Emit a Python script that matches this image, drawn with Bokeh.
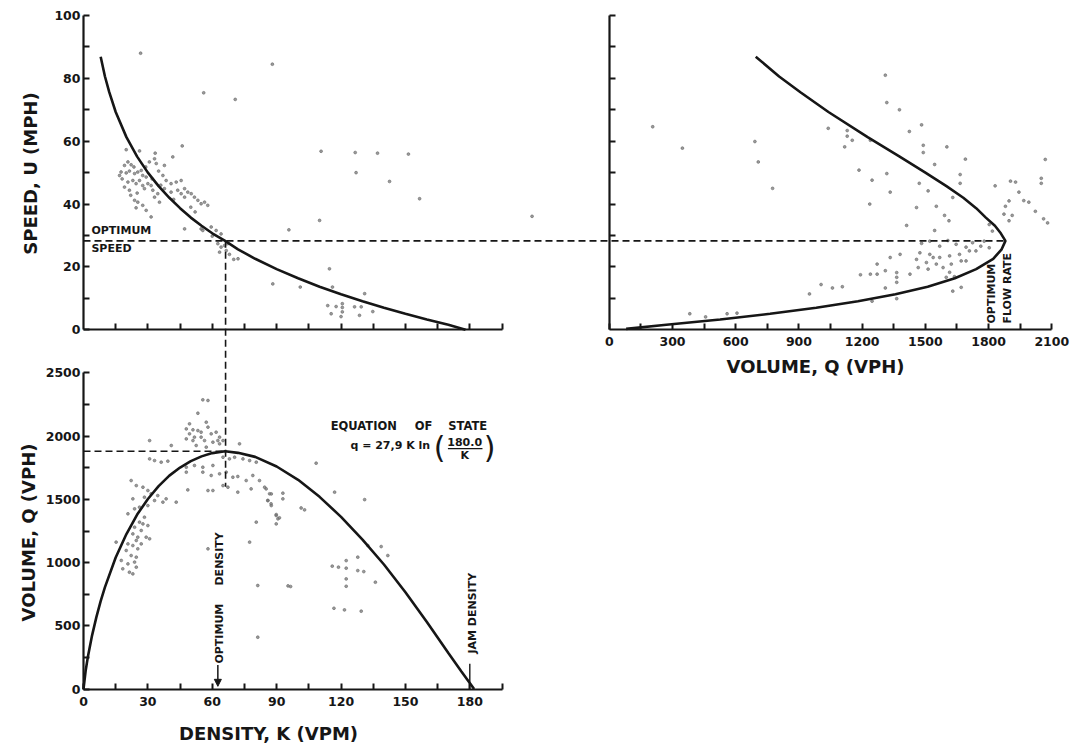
from math import pi
from bokeh.plotting import figure
from bokeh.models import Range1d, LinearAxis, FixedTicker, Arrow, NormalHead
from bokeh.core.properties import value
from bokeh.embed import file_html
from bokeh.resources import INLINE

# ---------------- data ----------------
# speed-density model curve (top left)
UK_CURVE_K = [8, 10, 12, 15, 20, 25, 30, 35, 40, 45, 50, 55, 60, 66, 72, 80, 90, 100, 110, 120, 130, 140, 150, 160, 170, 178]
UK_CURVE_U = [86.9, 80.6, 75.6, 69.3, 61.3, 55.1, 50.0, 45.7, 42.0, 38.7, 35.7, 33.1, 30.7, 28.3, 25.6, 22.6, 19.3, 16.4, 13.7, 11.3, 9.1, 7.0, 5.1, 3.3, 1.6, 0.0]

# speed-volume model curve (top right)
UQ_CURVE_Q = [695, 806, 907, 1040, 1226, 1378, 1500, 1600, 1680, 1741, 1787, 1830, 1858, 1880, 1862, 1822, 1741, 1640, 1511, 1358, 1180, 982, 763, 526, 271, 80]
UQ_CURVE_U = [86.9, 80.6, 75.6, 69.3, 61.3, 55.1, 50.0, 45.7, 42.0, 38.7, 35.7, 33.1, 30.7, 28.3, 25.6, 22.6, 19.3, 16.4, 13.7, 11.3, 9.1, 7.0, 5.1, 3.3, 1.6, 0.3]

# volume-density model curve (bottom)
QK_CURVE_K = [0, 1, 2, 4, 6, 8, 10, 15, 20, 25, 30, 35, 40, 45, 50, 55, 60, 66, 72, 80, 90, 100, 110, 120, 130, 140, 150, 160, 170, 176, 182]
QK_CURVE_Q = [0, 145, 251, 425, 569, 695, 806, 1040, 1226, 1380, 1503, 1605, 1688, 1752, 1802, 1840, 1866, 1880, 1868, 1836, 1760, 1655, 1520, 1362, 1182, 985, 766, 530, 285, 142, 0]

# optimum values
OPT_K = 66.2
OPT_U = 28.3
OPT_Q = 1880
JAM_K = 180

# observed speed-density points
UK_OBS_K = [46, 19.9, 26.1, 33.4, 41.6, 33.1, 30.7, 33.9, 37.7, 20.7, 19.1, 22.2, 23.5, 16.8, 17.5, 19.9, 21.4, 23.8,
            25.3, 26.9, 27.6, 29.2, 26.1, 23, 20.7, 24.5, 27.6, 30, 31.5, 28.4, 37, 38.5, 40.8, 43.2, 45.5, 47.1,
            48.6, 50.2, 51.7, 53.3, 54.8, 56.4, 57.9, 47.1, 45.5, 43.9, 35.4, 33.1, 27.6, 25.3, 29.2, 23.8, 31.5,
            47.1, 54.8, 55.6, 59.5, 61.8, 64.1, 62.6, 64.1, 65.7, 67.2, 66.5, 63.4, 21.4, 19.1, 32.3, 34.6, 37.7,
            40.8, 22, 25, 36, 42, 50, 52, 24.5, 32, 35, 18, 29, 60, 68, 70,
            26.6, 88, 56, 70.7, 110.7, 126.6, 137, 151.4, 127, 142.6, 156.6, 110, 95.7, 209, 72, 88.2, 101,
            114.6, 116, 131, 134.8, 128.6, 120, 115.4, 113.8, 117.7, 120.6, 120.6, 120.6, 126.3, 129.4]
UK_OBS_U = [58.5, 57.3, 56.9, 56.2, 55, 54.4, 53.4, 52.9, 52.3, 53.4, 52.3, 52.5, 51.8, 49.1, 50.2, 49.9, 50.5, 49.7,
            50.2, 50.7, 49.1, 48.6, 47.5, 47.5, 47, 46.5, 45.9, 46.5, 45.9, 44.9, 49.1, 47.5, 46.5, 47, 47.5, 44.9,
            43.8, 43.3, 42.2, 41.2, 40.1, 40.6, 39.6, 42.2, 43.3, 44.4, 40.6, 42.2, 39.6, 40.6, 38, 41.2, 35.9,
            32.1, 32.1, 31.6, 32.7, 31.6, 30.5, 27.4, 26.3, 26.8, 27.4, 25.2, 24.7, 44.4, 45.4, 44.4, 43.3, 44.9,
            43.8, 42.8, 43.5, 46, 41.5, 39, 37.5, 38.8, 48, 50.5, 48, 51.8, 29.8, 24, 22.4,
            88, 84.5, 75.4, 73.3, 56.8, 56.4, 56.2, 55.9, 50, 47.2, 41.7, 34.8, 31.8, 36.1, 22.6, 14.6, 13.6,
            19.4, 13.6, 11.5, 5.8, 4.6, 4.2, 5.1, 7.7, 7.4, 8.3, 7.1, 5.7, 7.3, 7.3]

# observed speed-volume points
UQ_OBS_Q = [1310, 1317, 1377, 206, 1039, 1129, 1129, 1482, 1424, 691, 347, 1153, 1239, 1117, 1490, 1490, 1602, 707,
            1544, 1690, 2069, 1665, 1665, 1185, 1317, 1247, 1471, 1513, 775, 1333, 1831, 1904, 2050, 2050, 1944,
            1967, 1630, 1236, 1458, 1552, 1897, 1880, 1873, 1897, 2022, 2061, 2080, 1591, 1612, 1411, 1803, 1544,
            1818, 1928, 1912, 1991,
            1482, 1521, 1568, 1607, 1646, 1693, 1724, 1763, 1779, 1803, 1709, 1662, 1615, 1568, 1521, 1474, 1458,
            1505, 1552, 1584, 1623, 1670, 1466, 1427, 1364, 1364, 1364, 1310, 1271, 1271, 1239, 1192, 1333, 1380,
            1513, 1615, 1638, 1537, 1599, 1693, 1740,
            1005, 1059, 1106, 950, 1247, 1310, 1364, 1630, 1670, 382, 457, 559, 606]
UQ_OBS_U = [81, 72.3, 70, 64.6, 64.1, 63.4, 61.6, 65.2, 63.1, 59.9, 57.8, 60.3, 60.3, 58.2, 58.7, 56.4, 58.2, 53.4,
            52.6, 54.3, 54.2, 49.4, 46.6, 50.8, 49.7, 47.6, 46.6, 44.2, 45, 43.8, 45.8, 47.3, 48.2, 46.6, 43.8,
            41.1, 42.1, 40, 38.9, 39.3, 41, 39.3, 36.8, 34.7, 37.7, 35.3, 34, 36.4, 34.7, 33.2, 33.5, 31.6,
            31.4, 47, 36.4, 40.6,
            27.5, 28.2, 26.6, 28.4, 27.2, 26.3, 27.7, 26.6, 28.2, 26.1, 25.1, 24.0, 23.5, 23.0, 24.0, 24.5, 22.4,
            21.4, 20.9, 19.8, 20.9, 21.9, 19.8, 17.7, 18.2, 16.7, 15.1, 18.8, 20.9, 17.7, 17.7, 17.5, 23.0, 24.0,
            19.3, 18.3, 16.9, 23.0, 16.7, 21.9, 25.1,
            14.4, 13.3, 13.7, 11.4, 9.1, 13.3, 9.9, 12.3, 13.5, 5.1, 4.1, 5.1, 5.3]

# observed volume-density points
QK_OBS_K = [55.6, 58, 53.3, 49.4, 47.9, 51, 53.3, 54.8, 57.2, 58, 59.5, 61.8, 63.4, 62.6, 49.4, 51.7, 54.8, 56.4,
            60.3, 63.4, 65, 47.9, 51, 52.5, 57.2, 72.7, 30.8, 40.9, 30.8, 33.1, 36.2, 39.3, 47.9, 51.7, 55.6, 60.3,
            65, 68, 70.4, 74.3, 77.4, 80.5, 47.9, 55.6, 59.5, 63.4, 66.5, 69.6, 71.9, 75.8, 78.9, 82, 85.1, 86.7,
            87.4, 89.8, 90.6, 85.9, 48.6, 58, 60.3, 65, 67.3, 71.9, 78.1, 38.5, 43.2, 80.5, 77.4, 58, 81.2, 81.2,
            22.2, 24.6, 27.7, 30, 23, 28.4, 31.5, 33.1, 34.6, 37, 30, 26.1, 23.8, 20.7, 28.4, 26.1, 23.8, 27.7,
            30, 26.9, 23, 29.2, 30.8, 24.6, 20.7, 23, 25.3, 19.9, 22.2, 24.6, 20.7, 23.8, 18.3, 21.4, 24.6, 23,
            15.2, 17.6, 25.3, 26.9,
            108.4, 117, 131, 84.4, 87.5, 92.9, 85.9, 87.5, 89.8, 91.3, 89.8, 92.9, 103, 96.5, 132.5, 138.7, 141.8,
            122.4, 122.4, 122.4, 122.4, 115.9, 118.8, 127.8, 127.8, 130.6, 136, 116.7, 121.6, 129.4, 101.4, 95.3]
QK_OBS_Q = [2287, 2282, 2181, 2097, 2057, 2050, 2044, 2031, 2110, 2071, 2018, 2031, 1992, 1965, 2018, 1992, 1992, 1965,
            1952, 1939, 1965, 1978, 1965, 1926, 1913, 1939, 1965, 1926, 1820, 1807, 1794, 1802, 1754, 1768, 1754, 1768,
            1833, 1820, 1833, 1820, 1807, 1794, 1715, 1715, 1689, 1702, 1715, 1675, 1681, 1649, 1689, 1649, 1583, 1544,
            1465, 1372, 1346, 1491, 1575, 1570, 1570, 1609, 1596, 1557, 1583, 1504, 1478, 1320, 1162, 1109, 819, 410,
            1649, 1609, 1596, 1570, 1504, 1517, 1544, 1491, 1530, 1478, 1451, 1438, 1425, 1386, 1359, 1320, 1280, 1306,
            1293, 1254, 1227, 1201, 1188, 1175, 1148, 1135, 1109, 1096, 1056, 1043, 990, 1004, 951, 924, 964, 911,
            1162, 1017, 1201, 1148,
            1786, 1557, 1498, 1596, 1543, 1549, 1491, 1451, 1380, 1354, 1306, 1504, 1417, 811, 1135, 1127, 1056,
            1016, 956, 871, 813, 972, 964, 1043, 937, 929, 845, 639, 626, 616, 1432, 816]

# axis ticks
K_MAJOR = [0, 30, 60, 90, 120, 150, 180]
K_MINOR = [15, 45, 75, 105, 135, 165, 195]
K_ALL = [15, 30, 45, 60, 75, 90, 105, 120, 135, 150, 165, 180, 195]
U_MAJOR = [0, 20, 40, 60, 80, 100]
U_MINOR = [10, 30, 50, 70, 90]
U_ALL = [10, 20, 30, 40, 50, 60, 70, 80, 90, 100]
QX_MAJOR = [0, 300, 600, 900, 1200, 1500, 1800, 2100]
QX_MINOR = [150, 450, 750, 1050, 1350, 1650, 1950]
QY_MAJOR = [0, 500, 1000, 1500, 2000, 2500]
QY_MINOR = [250, 750, 1250, 1750, 2250]

# ---------------- layout (pixels) ----------------
W, H = 1077, 744
PX_K0, PX_K195 = 83.0, 501.5
PY_U0, PY_U100 = 329.3, 15.0
PX_Q0, PX_Q2100 = 608.8, 1051.3
PY_Q0, PY_Q2500 = 688.6, 372.4

INK = "#161616"
DOT = "#707070"
FONT = "DejaVu Sans"


def x_range(d0, p0, d1, p1):
    s = (d1 - d0) / (p1 - p0)
    return Range1d(start=d0 - p0 * s, end=d0 + (W - p0) * s)


def y_range(d0, p0, d1, p1):
    s = (d1 - d0) / (p1 - p0)
    return Range1d(start=d0 + (H - p0) * s, end=d0 - p0 * s)


def lin(d0, p0, d1, p1):
    s = (p1 - p0) / (d1 - d0)
    to_px = lambda d: p0 + (d - d0) * s
    to_d = lambda px: d0 + (px - p0) / s
    return to_px, to_d


k_px, px_k = lin(0, PX_K0, 195, PX_K195)
u_py, py_u = lin(0, PY_U0, 100, PY_U100)
q_px, px_q = lin(0, PX_Q0, 2100, PX_Q2100)
q_py, py_q = lin(0, PY_Q0, 2500, PY_Q2500)

p = figure(width=W, height=H, x_range=Range1d(0, W), y_range=Range1d(0, H),
           x_axis_type=None, y_axis_type=None, toolbar_location=None,
           output_backend="svg", min_border=0, title=None,
           outline_line_color=None, background_fill_color="white", border_fill_color="white")
p.extra_x_ranges = {"k": x_range(0, PX_K0, 195, PX_K195), "qx": x_range(0, PX_Q0, 2100, PX_Q2100)}
p.extra_y_ranges = {"u": y_range(0, PY_U0, 100, PY_U100), "qy": y_range(0, PY_Q0, 2500, PY_Q2500)}

# observations
DOTS = dict(size=2.8, color=DOT, alpha=0.7)
p.scatter(UK_OBS_K, UK_OBS_U, x_range_name="k", y_range_name="u", **DOTS)
p.scatter(UQ_OBS_Q, UQ_OBS_U, x_range_name="qx", y_range_name="u", **DOTS)
p.scatter(QK_OBS_K, QK_OBS_Q, x_range_name="k", y_range_name="qy", **DOTS)

# model curves
p.line(UK_CURVE_K, UK_CURVE_U, line_width=2.6, color=INK, x_range_name="k", y_range_name="u")
p.line(UQ_CURVE_Q, UQ_CURVE_U, line_width=2.6, color=INK, x_range_name="qx", y_range_name="u")
p.line(QK_CURVE_K, QK_CURVE_Q, line_width=2.6, color=INK, x_range_name="k", y_range_name="qy")

# dashed optimum guides
DASH = "7 4"
k_at_qmax = px_k(q_px(OPT_Q))
p.line([0, k_at_qmax], [OPT_U, OPT_U], line_dash=DASH, line_width=1.6, color=INK, x_range_name="k", y_range_name="u")
u_at_q1600 = py_u(q_py(1600))
p.line([OPT_K, OPT_K], [OPT_U, u_at_q1600], line_dash=DASH, line_width=1.6, color=INK, x_range_name="k", y_range_name="u")
p.line([0, OPT_K], [OPT_Q, OPT_Q], line_dash=DASH, line_width=1.6, color=INK, x_range_name="k", y_range_name="qy")

# jam density marker
p.line([JAM_K, JAM_K], [0, 200], line_width=1.4, color=INK, x_range_name="k", y_range_name="qy")


# axes
def add_axis(side, xname, yname, loc, bounds, ticks, minor, standoff):
    ax = LinearAxis(x_range_name=xname, y_range_name=yname, fixed_location=loc, bounds=bounds,
                    ticker=FixedTicker(ticks=ticks, minor_ticks=minor),
                    axis_line_color=INK, axis_line_width=2.2,
                    major_tick_in=6, major_tick_out=0, minor_tick_in=6, minor_tick_out=0,
                    major_tick_line_color=INK, minor_tick_line_color=INK,
                    major_tick_line_width=2, minor_tick_line_width=2,
                    major_label_text_font=FONT, major_label_text_font_size="12.5px",
                    major_label_text_font_style="bold", major_label_text_color=INK,
                    major_label_standoff=standoff)
    p.add_layout(ax, side)


add_axis("left", "k", "u", 0, (0, 100), U_MAJOR, U_MINOR, 3)
add_axis("below", "k", "u", 0, (0, 195), [], K_ALL, 6)
add_axis("left", "qx", "u", 0, (0, 100), [], U_ALL, 3)
add_axis("below", "qx", "u", 0, (0, 2100), QX_MAJOR, QX_MINOR, 7)
add_axis("left", "k", "qy", 0, (0, 2500), QY_MAJOR, QY_MINOR, 3)
add_axis("below", "k", "qy", 0, (0, 195), K_MAJOR, K_MINOR, 8)

# axis titles
TITLE = dict(text_font=value(FONT), text_font_style="bold", text_font_size="18px",
             text_color=INK, text_align="center", text_baseline="middle")
p.text([px_k(30)], [py_u(173)], ["SPEED, U (MPH)"], angle=pi / 2, x_range_name="k", y_range_name="u", **TITLE)
p.text([px_k(28)], [py_q(532)], ["VOLUME, Q (VPH)"], angle=pi / 2, x_range_name="k", y_range_name="qy", **TITLE)
p.text([px_k(268)], [py_q(733)], ["DENSITY, K (VPM)"], x_range_name="k", y_range_name="qy", **TITLE)
p.text([px_q(815)], [py_u(366)], ["VOLUME, Q (VPH)"], x_range_name="qx", y_range_name="u", **TITLE)

# annotations
NOTE = dict(text_font=value(FONT), text_font_style="bold", text_font_size="11px", text_color=INK,
            text_baseline="middle")
p.text([3.7, 3.7], [31.6, 25.9], ["OPTIMUM", "SPEED"], text_align="left", x_range_name="k", y_range_name="u", **NOTE)
p.text([1815, 1890], [2.0, 2.0], ["OPTIMUM", "FLOW RATE"], angle=pi / 2, text_align="left",
       x_range_name="qx", y_range_name="u", **NOTE)
p.text([63.6, 63.6], [202, 819], ["OPTIMUM", "DENSITY"], angle=pi / 2, text_align="left",
       x_range_name="k", y_range_name="qy", **NOTE)
p.add_layout(Arrow(end=NormalHead(size=7, fill_color=INK, line_color=INK), x_start=62.6, y_start=190,
                   x_end=62.6, y_end=22, line_color=INK, line_width=1.5, x_range_name="k", y_range_name="qy"))
p.text([181.3], [281], ["JAM DENSITY"], angle=pi / 2, text_align="left",
       x_range_name="k", y_range_name="qy", **NOTE)

# equation of state
EQ = dict(text_font=value(FONT), text_font_style="bold", text_color=INK, text_baseline="middle",
          x_range_name="k", y_range_name="qy")
p.text([115.2], [2084], ["EQUATION"], text_align="left", text_font_size="11.5px", **EQ)
p.text([158.4], [2084], ["OF"], text_align="center", text_font_size="11.5px", **EQ)
p.text([188.1], [2084], ["STATE"], text_align="right", text_font_size="11.5px", **EQ)
p.text([163.3], [1926], ["q = 27,9 K  ln"], text_align="right", text_font_size="11px", **EQ)
p.text([165.9, 189.2], [1912, 1912], ["(", ")"], text_align="center", text_font_size="30px",
       x_range_name="k", y_range_name="qy", text_font=value(FONT), text_color=INK, text_baseline="middle")
p.text([177.6], [1957], ["180.0"], text_align="center", text_font_size="11px", **EQ)
p.line([169.8, 185.9], [1902, 1902], line_width=1.3, color=INK, x_range_name="k", y_range_name="qy")
p.text([177.6], [1848], ["K"], text_align="center", text_font_size="11px", **EQ)

open("out.html", "w").write(file_html(p, INLINE))
